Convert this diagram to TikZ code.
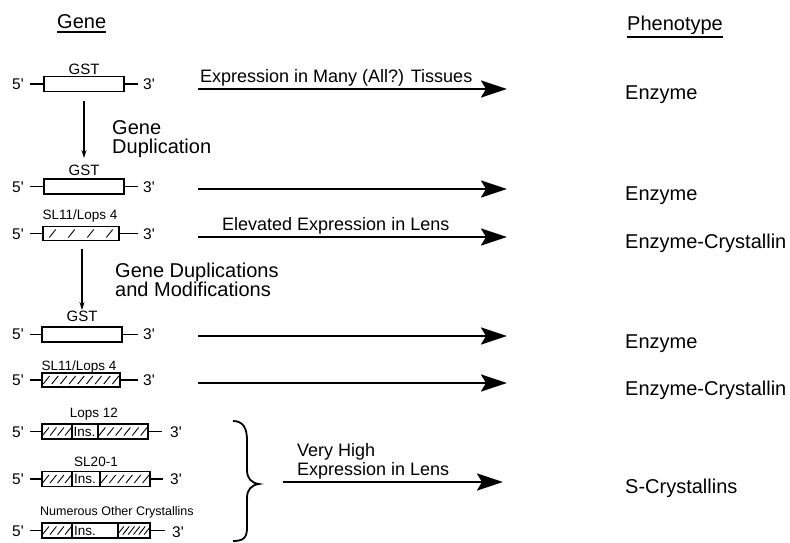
\documentclass[tikz,border=0pt]{standalone}
\usepackage{fontspec}
\setmainfont{Liberation Sans}
\usetikzlibrary{arrows.meta}
\newcommand\hatchseg[4]{\foreach \k in {1,...,#4}{\pgfmathsetmacro\xc{#1+(#2-#1)*(\k-0.5)/#4}\draw[hatch] (\xc-3.2,#3+4) -- (\xc+3.2,#3-4);}}
\newcommand\pr{\textquotesingle}
\tikzset{
 big/.style={font=\fontsize{20}{19}\selectfont, inner sep=0pt, anchor=base west},
 lab/.style={font=\fontsize{18}{18.5}\selectfont, inner sep=0pt, anchor=base west},
 small/.style={font=\fontsize{13.5}{15}\selectfont, inner sep=0pt, anchor=base},
 gst/.style={font=\fontsize{15}{16}\selectfont, inner sep=0pt, anchor=base},
 tiny/.style={font=\fontsize{12.5}{14}\selectfont, inner sep=0pt, anchor=base west},
 prime/.style={font=\fontsize{15.5}{16}\selectfont, inner sep=0pt, anchor=base west},
 ins/.style={font=\fontsize{13.5}{15}\selectfont, inner sep=0pt, anchor=west},
 gbox/.style={draw, line width=1.1pt, inner sep=0pt, outer sep=0pt, anchor=west, minimum height=15pt},
 gline/.style={line width=1.1pt},
 hatch/.style={line width=0.9pt},
 harrow/.style={line width=2.6pt, -{Stealth[length=26pt,width=17pt,inset=5pt]}},
 varrow/.style={line width=1.1pt, -{Stealth[length=8pt,width=5pt]}},
 uline/.style={line width=2pt},
 brace/.style={line width=1.8pt},
}
\begin{document}
\begin{tikzpicture}[x=1pt,y=-1pt]
\useasboundingbox (0,0) rectangle (790,542);
% headers
\node[big] (hg) at (57,28) {Gene};
\draw[uline] ([yshift=-4pt]hg.base west) -- ([yshift=-4pt]hg.base east);
\node[big] (hp) at (627,30) {Phenotype};
\draw[uline] ([yshift=-7pt]hp.base west) -- ([yshift=-7pt]hp.base east);

% ---- row 1
\node[gst] (t1) at (84,74) {GST};
\node[gbox, minimum width=80pt] (b1) at (44,84) {};
\node[prime] (f1) at (12,89) {5\pr};
\node[prime] (e1) at (143,89) {3\pr};
\coordinate (l1) at (30,84); \coordinate (r1) at (138,84);
\draw[gline] (l1) -- (b1.west); \draw[gline] (b1.east) -- (r1);
\coordinate (s1) at (198,89); \coordinate (d1) at (507,89);
\draw[harrow] (s1) -- (d1);
\node[lab] (x1) at (200,82) {Expression in Many (All?) Tissues};
\node[big] (p1) at (625,99) {Enzyme};

% vertical arrow 1
\coordinate (v1e) at (84,158);
\draw[varrow, shorten <=9pt] (b1.south) -- (v1e);
\node[big, align=left] (gd1) at (112,153) {Gene\\Duplication};

% ---- row 2
\node[gst] (t2) at (84,175) {GST};
\node[gbox, minimum width=80pt] (b2) at (44,186.5) {};
\node[prime] (f2) at (12,192) {5\pr};
\node[prime] (e2) at (143,192) {3\pr};
\coordinate (l2) at (30,186.5); \coordinate (r2) at (138,186.5);
\draw[gline] (l2) -- (b2.west); \draw[gline] (b2.east) -- (r2);
\coordinate (s2) at (198,189); \coordinate (d2) at (507,189);
\draw[harrow] (s2) -- (d2);
\node[big] (p2) at (625,200) {Enzyme};

% ---- row 3
\node[small] (t3) at (80,219) {SL11/Lops 4};
\node[gbox, minimum width=76pt, minimum height=14pt] (b3) at (43,233.5) {};
\hatchseg{43}{119}{233.5}{4}
\node[prime] (f3) at (12,239) {5\pr};
\node[prime] (e3) at (143,239) {3\pr};
\coordinate (l3) at (30,233.5); \coordinate (r3) at (138,233.5);
\draw[gline] (l3) -- (b3.west); \draw[gline] (b3.east) -- (r3);
\coordinate (s3) at (198,237); \coordinate (d3) at (507,237);
\draw[harrow] (s3) -- (d3);
\node[lab] (x3) at (222,230) {Elevated Expression in Lens};
\node[big] (p3) at (625,248) {Enzyme-Crystallin};

% vertical arrow 2
\coordinate (v2e) at (82,310);
\draw[varrow, shorten <=8pt] (b3.south -| v2e) -- (v2e);
\node[big, align=left] (gd2) at (115,296) {Gene Duplications\\and Modifications};

% ---- row 4
\node[gst] (t4) at (82,321) {GST};
\node[gbox, minimum width=80pt] (b4) at (42,334.5) {};
\node[prime] (f4) at (12,339) {5\pr};
\node[prime] (e4) at (143,339) {3\pr};
\coordinate (l4) at (30,334.5); \coordinate (r4) at (138,334.5);
\draw[gline] (l4) -- (b4.west); \draw[gline] (b4.east) -- (r4);
\coordinate (s4) at (198,336); \coordinate (d4) at (507,336);
\draw[harrow] (s4) -- (d4);
\node[big] (p4) at (625,348) {Enzyme};

% ---- row 5
\node[small] (t5) at (79,370) {SL11/Lops 4};
\node[gbox, minimum width=78pt, minimum height=14pt] (b5) at (42,380) {};
\hatchseg{42}{120}{380}{9}
\node[prime] (f5) at (12,385) {5\pr};
\node[prime] (e5) at (143,385) {3\pr};
\coordinate (l5) at (30,380); \coordinate (r5) at (138,380);
\draw[gline] (l5) -- (b5.west); \draw[gline] (b5.east) -- (r5);
\coordinate (s5) at (198,383); \coordinate (d5) at (507,383);
\draw[harrow] (s5) -- (d5);
\node[big] (p5) at (625,395) {Enzyme-Crystallin};

% ---- row 6
\node[small] (t6) at (94,417) {Lops 12};
\node[gbox, minimum width=30pt] (b6a) at (42,431.5) {};
\node[gbox, minimum width=26pt] (b6b) at (72,431.5) {};
\node[gbox, minimum width=50pt] (b6c) at (98,431.5) {};
\node[ins] (i6) at (73.5,431.5) {Ins.};
\hatchseg{42}{72}{431.5}{4}
\hatchseg{98}{148}{431.5}{6}
\node[prime] (f6) at (12,437) {5\pr};
\node[prime] (e6) at (170,437) {3\pr};
\coordinate (l6) at (30,431.5); \coordinate (r6) at (162,431.5);
\draw[gline] (l6) -- (b6a.west); \draw[gline] (b6c.east) -- (r6);

% ---- row 7
\node[small] (t7) at (96,466) {SL20-1};
\node[gbox, minimum width=30pt] (b7a) at (42,479) {};
\node[gbox, minimum width=28pt] (b7b) at (72,479) {};
\node[gbox, minimum width=50pt] (b7c) at (100,479) {};
\node[ins] (i7) at (74,479) {Ins.};
\hatchseg{42}{72}{479}{4}
\hatchseg{100}{150}{479}{6}
\node[prime] (f7) at (12,484) {5\pr};
\node[prime] (e7) at (170,484) {3\pr};
\coordinate (l7) at (30,479); \coordinate (r7) at (163,479);
\draw[gline] (l7) -- (b7a.west); \draw[gline] (b7c.east) -- (r7);

% ---- row 8
\node[tiny] (t8) at (40,515) {Numerous Other Crystallins};
\node[gbox, minimum width=30pt] (b8a) at (42,530.5) {};
\node[gbox, minimum width=46pt] (b8b) at (72,530.5) {};
\node[gbox, minimum width=32pt] (b8c) at (118,530.5) {};
\node[ins] (i8) at (74,530.5) {Ins.};
\hatchseg{42}{72}{530.5}{4}
\hatchseg{118}{150}{530.5}{6}
\node[prime] (f8) at (12,536) {5\pr};
\node[prime] (e8) at (172,537) {3\pr};
\coordinate (l8) at (30,530.5); \coordinate (r8) at (165,530.5);
\draw[gline] (l8) -- (b8a.west); \draw[gline] (b8c.east) -- (r8);

% brace
\draw[brace] (233,421) .. controls (243,421) and (247,428) .. (247,440) -- (247,470)
  .. controls (247,478) and (251,483) .. (259,484)
  .. controls (251,485) and (247,490) .. (247,498) -- (247,528)
  .. controls (247,538) and (243,541) .. (233,541);

% very high expression arrow
\coordinate (s6) at (283,482); \coordinate (d6) at (503,482);
\draw[harrow] (s6) -- (d6);
\node[lab, align=left] (x6) at (297,475) {Very High\\Expression in Lens};
\node[big] (p6) at (625,493) {S-Crystallins};
\end{tikzpicture}
\end{document}
